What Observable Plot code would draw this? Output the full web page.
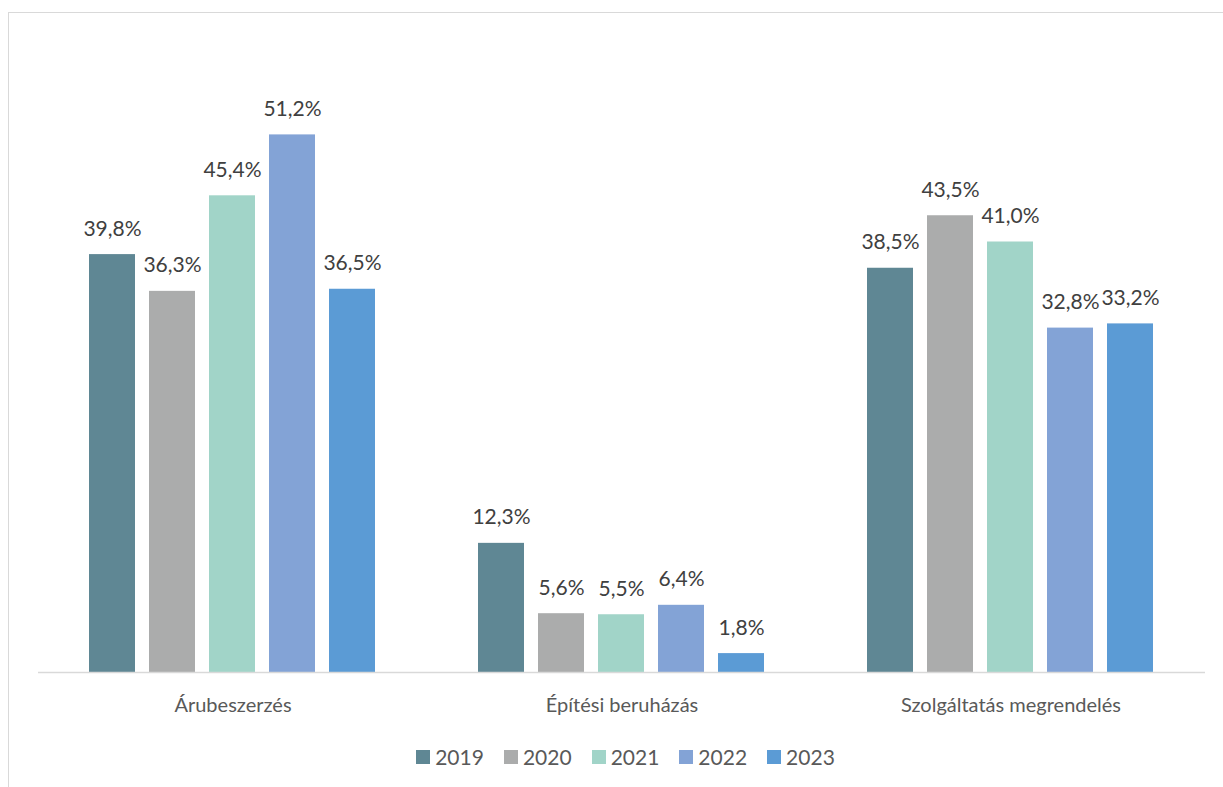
<!DOCTYPE html>
<html>
<head>
<meta charset="utf-8">
<script src="https://cdn.jsdelivr.net/npm/d3@7"></script>
<script src="https://cdn.jsdelivr.net/npm/@observablehq/plot@0.6"></script>
<style>
  html, body { margin: 0; padding: 0; background: #fff; }
  #wrap { position: relative; width: 1223px; height: 787px; overflow: hidden; font-family: Lato, "Open Sans", sans-serif; }
  #frame { position: absolute; left: 8px; top: 12px; width: 1240px; height: 800px; border: 1px solid #d9d9d9; box-sizing: border-box; }
  #chart { position: absolute; left: 0; top: 0; }
  #legend { position: absolute; left: 0; top: 744px; width: 1251px; display: flex; justify-content: center; gap: 20px; font-size: 21px; color: #595959; }
  #legend .item { display: flex; align-items: center; gap: 5px; }
  #legend .sw { width: 14px; height: 14px; display: inline-block; }
</style>
</head>
<body>
<div id="wrap">
  <div id="frame"></div>
  <div id="chart"></div>
  <div id="legend"></div>
</div>
<script>
const categories = ["Árubeszerzés", "Építési beruházás", "Szolgáltatás megrendelés"];
const years = ["2019", "2020", "2021", "2022", "2023"];
const values2019 = [39.8, 12.3, 38.5];
const values2020 = [36.3, 5.6, 43.5];
const values2021 = [45.4, 5.5, 41.0];
const values2022 = [51.2, 6.4, 32.8];
const values2023 = [36.5, 1.8, 33.2];
const colors = ["#5F8794", "#ABACAC", "#A1D4C8", "#83A3D6", "#5B9BD5"];

const series = [values2019, values2020, values2021, values2022, values2023];
const data = categories.flatMap((c, i) => years.map((y, j) => ({category: c, year: y, value: series[j][i]})));
const fmt = v => v.toFixed(1).replace(".", ",") + "%";

const chart = Plot.plot({
  width: 1223,
  height: 725,
  marginLeft: 38,
  marginRight: 18,
  marginTop: 42,
  marginBottom: 53,
  style: {fontFamily: "Lato, 'Open Sans', sans-serif", fontSize: "21px", background: "transparent"},
  fx: {domain: categories, padding: 0, label: null},
  x: {domain: years, paddingInner: 0.233, paddingOuter: 0.858, axis: null},
  y: {domain: [0, 60], axis: null},
  color: {domain: years, range: colors},
  marks: [
    Plot.barY(data, {fx: "category", x: "year", y: "value", fill: "year"}),
    Plot.ruleY([0], {stroke: "#d9d9d9", strokeWidth: 1.5}),
    Plot.text(data, {fx: "category", x: "year", y: "value", text: d => fmt(d.value), dy: -19, lineAnchor: "bottom", fill: "#404040", fontSize: 21}),
    Plot.axisFx({anchor: "bottom", tickSize: 0, tickPadding: 25, fontSize: 20, fill: "#595959", label: null})
  ]
});
document.getElementById("chart").appendChild(chart);

const legend = document.getElementById("legend");
years.forEach((y, i) => {
  const item = document.createElement("div");
  item.className = "item";
  const sw = document.createElement("span");
  sw.className = "sw";
  sw.style.background = colors[i];
  const t = document.createElement("span");
  t.textContent = y;
  item.appendChild(sw);
  item.appendChild(t);
  legend.appendChild(item);
});
</script>
</body>
</html>
